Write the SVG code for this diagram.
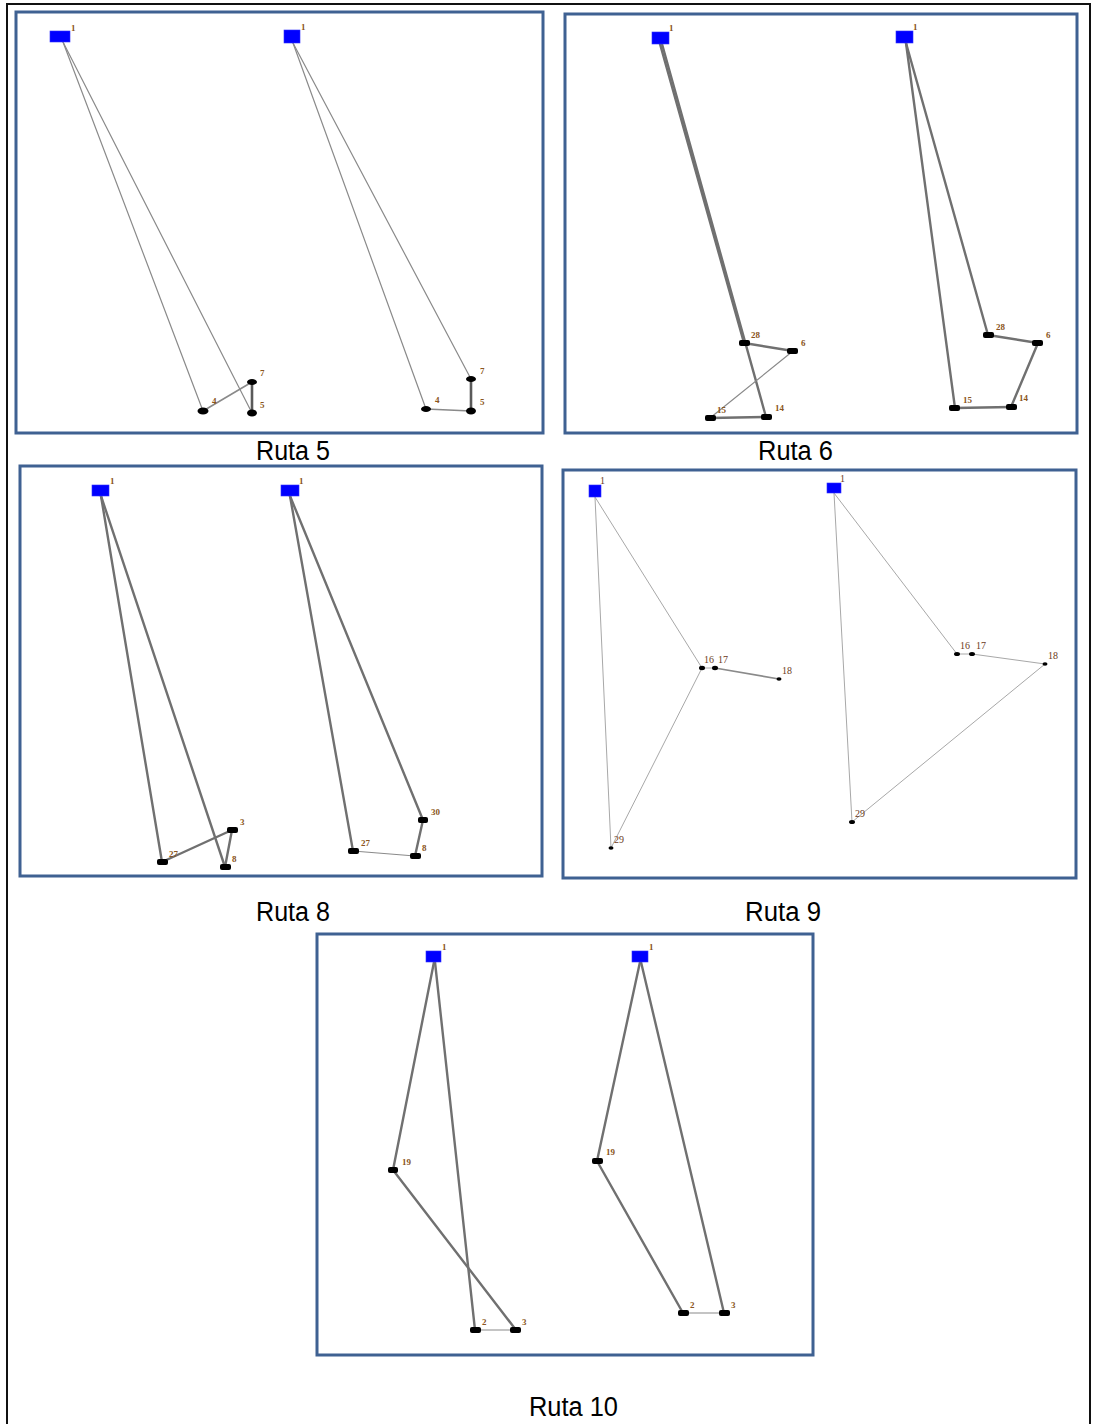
<svg xmlns="http://www.w3.org/2000/svg" width="1093" height="1424" viewBox="0 0 1093 1424">
<style>
.frame{fill:none;stroke:#111;stroke-width:2}
.panel{fill:#fff;stroke:#3f6192;stroke-width:3}
.depot{fill:#0000ff;stroke:#3030ff;stroke-width:0.6}
.node{fill:#000}
.nsm{fill:#000}
.lbl{font-family:"Liberation Serif",serif;font-size:9px;font-weight:bold;fill:#8a5520}
.lbl9{font-family:"Liberation Serif",serif;font-size:10px;fill:#6b3a1a}
.title{font-family:"Liberation Sans",Arial,sans-serif;font-size:27px;fill:#000}
.e{fill:none;stroke:#8a8a8a;stroke-width:1.2;stroke-linecap:round}
.ek{fill:none;stroke:#5a5a5a;stroke-width:2.6;stroke-linecap:round}
.em{fill:none;stroke:#707070;stroke-width:2.4;stroke-linecap:round}
.et{fill:none;stroke:#a8a8a8;stroke-width:1;stroke-linecap:round}
.eh{fill:none;stroke:#8a8a8a;stroke-width:1.6;stroke-linecap:round}
</style>
<rect width="1093" height="1424" fill="#fff"/>
<path class="frame" d="M7,1430 V4 H1090 V1430"/>

<g id="panels">
<rect class="panel" x="16" y="12" width="527" height="421"/>
<rect class="panel" x="565" y="14" width="512" height="419"/>
<rect class="panel" x="20" y="466" width="522" height="410"/>
<rect class="panel" x="563" y="470" width="513" height="408"/>
<rect class="panel" x="317" y="934" width="496" height="421"/>
</g>

<g id="connectors">
<!-- Ruta 5 left -->
<line class="e" x1="63" y1="42" x2="203" y2="411"/>
<line class="e" x1="63" y1="42" x2="252" y2="413"/>
<line class="eh" x1="203" y1="411" x2="252" y2="382"/>
<line class="ek" x1="252" y1="382" x2="252" y2="413"/>
<!-- Ruta 5 right -->
<line class="e" x1="293" y1="43" x2="426" y2="409"/>
<line class="e" x1="293" y1="43" x2="471" y2="379"/>
<line class="eh" x1="426" y1="409" x2="471" y2="411"/>
<line class="ek" x1="471" y1="379" x2="471" y2="411"/>
<!-- Ruta 6 left -->
<line class="em" x1="660" y1="44" x2="744" y2="343"/>
<line class="em" x1="662" y1="44" x2="766" y2="417"/>
<line class="em" x1="744" y1="343" x2="793" y2="351"/>
<line class="e" x1="793" y1="351" x2="710" y2="418"/>
<line class="em" x1="710" y1="418" x2="766" y2="417"/>
<!-- Ruta 6 right -->
<line class="em" x1="906" y1="43" x2="988" y2="335"/>
<line class="em" x1="988" y1="335" x2="1038" y2="343"/>
<line class="em" x1="1038" y1="343" x2="1011" y2="407"/>
<line class="em" x1="1011" y1="407" x2="955" y2="408"/>
<line class="em" x1="955" y1="408" x2="906" y2="43"/>
<!-- Ruta 8 left -->
<line class="em" x1="101" y1="496" x2="162" y2="862"/>
<line class="em" x1="162" y1="862" x2="232" y2="830"/>
<line class="em" x1="232" y1="830" x2="225" y2="867"/>
<line class="em" x1="225" y1="867" x2="101" y2="496"/>
<!-- Ruta 8 right -->
<line class="em" x1="290" y1="496" x2="353" y2="851"/>
<line class="e" x1="353" y1="851" x2="415" y2="856"/>
<line class="em" x1="415" y1="856" x2="423" y2="820"/>
<line class="em" x1="423" y1="820" x2="290" y2="496"/>
<!-- Ruta 9 left -->
<line class="et" x1="595" y1="497" x2="611" y2="848"/>
<line class="et" x1="595" y1="497" x2="702" y2="668"/>
<line class="et" x1="611" y1="848" x2="702" y2="668"/>
<line class="et" x1="702" y1="668" x2="715" y2="668"/>
<line class="eh" x1="715" y1="668" x2="779" y2="679"/>
<!-- Ruta 9 right -->
<line class="et" x1="834" y1="493" x2="852" y2="822"/>
<line class="et" x1="834" y1="493" x2="957" y2="654"/>
<line class="et" x1="957" y1="654" x2="972" y2="654"/>
<line class="et" x1="972" y1="654" x2="1045" y2="664"/>
<line class="et" x1="1045" y1="664" x2="852" y2="822"/>
<!-- Ruta 10 left -->
<line class="em" x1="434" y1="962" x2="393" y2="1170"/>
<line class="em" x1="393" y1="1170" x2="516" y2="1330"/>
<line class="e" x1="516" y1="1330" x2="475" y2="1330"/>
<line class="em" x1="475" y1="1330" x2="435" y2="962"/>
<!-- Ruta 10 right -->
<line class="em" x1="640" y1="962" x2="597" y2="1161"/>
<line class="em" x1="597" y1="1161" x2="683" y2="1313"/>
<line class="e" x1="683" y1="1313" x2="724" y2="1313"/>
<line class="em" x1="724" y1="1313" x2="641" y2="962"/>
</g>

<!-- Ruta 5 left nodes -->
<g id="r5a-1"><rect class="depot" x="50" y="31" width="20" height="11"/><text class="lbl" x="71" y="31">1</text></g>
<g id="r5a-4"><ellipse class="node" cx="203" cy="411" rx="5.5" ry="3.5"/><text class="lbl" x="212" y="404" fill="#3050a0">4</text></g>
<g id="r5a-7"><ellipse class="node" cx="252" cy="382" rx="5" ry="3"/><text class="lbl" x="260" y="376">7</text></g>
<g id="r5a-5"><ellipse class="node" cx="252" cy="413" rx="5" ry="3.5"/><text class="lbl" x="260" y="408">5</text></g>
<!-- Ruta 5 right nodes -->
<g id="r5b-1"><rect class="depot" x="284" y="30" width="16" height="13"/><text class="lbl" x="301" y="30">1</text></g>
<g id="r5b-4"><ellipse class="node" cx="426" cy="409" rx="5" ry="3"/><text class="lbl" x="435" y="403">4</text></g>
<g id="r5b-7"><ellipse class="node" cx="471" cy="379" rx="5" ry="3"/><text class="lbl" x="480" y="374">7</text></g>
<g id="r5b-5"><ellipse class="node" cx="471" cy="411" rx="5" ry="3.5"/><text class="lbl" x="480" y="405">5</text></g>

<!-- Ruta 6 left nodes -->
<g id="r6a-1"><rect class="depot" x="652" y="32" width="17" height="12"/><text class="lbl" x="669" y="31">1</text></g>
<g id="r6a-28"><rect class="node" x="739" y="340" width="11" height="6" rx="2"/><text class="lbl" x="751" y="338">28</text></g>
<g id="r6a-6"><rect class="node" x="787" y="348" width="11" height="6" rx="2"/><text class="lbl" x="801" y="346">6</text></g>
<g id="r6a-14"><rect class="node" x="761" y="414" width="11" height="6" rx="2"/><text class="lbl" x="775" y="411">14</text></g>
<g id="r6a-15"><rect class="node" x="705" y="415" width="11" height="6" rx="2"/><text class="lbl" x="717" y="413">15</text></g>
<!-- Ruta 6 right nodes -->
<g id="r6b-1"><rect class="depot" x="896" y="31" width="17" height="12"/><text class="lbl" x="913" y="30">1</text></g>
<g id="r6b-28"><rect class="node" x="983" y="332" width="11" height="6" rx="2"/><text class="lbl" x="996" y="330">28</text></g>
<g id="r6b-6"><rect class="node" x="1032" y="340" width="11" height="6" rx="2"/><text class="lbl" x="1046" y="338">6</text></g>
<g id="r6b-14"><rect class="node" x="1006" y="404" width="11" height="6" rx="2"/><text class="lbl" x="1019" y="401">14</text></g>
<g id="r6b-15"><rect class="node" x="949" y="405" width="11" height="6" rx="2"/><text class="lbl" x="963" y="403">15</text></g>

<!-- Ruta 8 left nodes -->
<g id="r8a-1"><rect class="depot" x="92" y="485" width="17" height="11"/><text class="lbl" x="110" y="484">1</text></g>
<g id="r8a-27"><rect class="node" x="157" y="859" width="11" height="6" rx="2"/><text class="lbl" x="169" y="857">27</text></g>
<g id="r8a-3"><rect class="node" x="227" y="827" width="11" height="6" rx="2"/><text class="lbl" x="240" y="825">3</text></g>
<g id="r8a-8"><rect class="node" x="220" y="864" width="11" height="6" rx="2"/><text class="lbl" x="232" y="862">8</text></g>
<!-- Ruta 8 right nodes -->
<g id="r8b-1"><rect class="depot" x="281" y="485" width="18" height="11"/><text class="lbl" x="299" y="484">1</text></g>
<g id="r8b-27"><rect class="node" x="348" y="848" width="11" height="6" rx="2"/><text class="lbl" x="361" y="846">27</text></g>
<g id="r8b-8"><rect class="node" x="410" y="853" width="11" height="6" rx="2"/><text class="lbl" x="422" y="851">8</text></g>
<g id="r8b-30"><rect class="node" x="418" y="817" width="10" height="6" rx="2"/><text class="lbl" x="431" y="815">30</text></g>

<!-- Ruta 9 left nodes -->
<g id="r9a-1"><rect class="depot" x="589" y="485" width="12" height="12"/><text class="lbl9" x="600" y="484">1</text></g>
<g id="r9a-16"><ellipse class="nsm" cx="702" cy="668" rx="3" ry="2.2"/><text class="lbl9" x="704" y="663">16</text></g>
<g id="r9a-17"><ellipse class="nsm" cx="715" cy="668" rx="3" ry="2.2"/><text class="lbl9" x="718" y="663">17</text></g>
<g id="r9a-18"><ellipse class="nsm" cx="779" cy="679" rx="2.5" ry="1.8"/><text class="lbl9" x="782" y="674">18</text></g>
<g id="r9a-29"><ellipse class="nsm" cx="611" cy="848" rx="2.5" ry="1.8"/><text class="lbl9" x="614" y="843">29</text></g>
<!-- Ruta 9 right nodes -->
<g id="r9b-1"><rect class="depot" x="827" y="483" width="14" height="10"/><text class="lbl9" x="840" y="482">1</text></g>
<g id="r9b-16"><ellipse class="nsm" cx="957" cy="654" rx="3" ry="2"/><text class="lbl9" x="960" y="649">16</text></g>
<g id="r9b-17"><ellipse class="nsm" cx="972" cy="654" rx="3" ry="2"/><text class="lbl9" x="976" y="649">17</text></g>
<g id="r9b-18"><ellipse class="nsm" cx="1045" cy="664" rx="2.5" ry="1.8"/><text class="lbl9" x="1048" y="659">18</text></g>
<g id="r9b-29"><ellipse class="nsm" cx="852" cy="822" rx="3" ry="2"/><text class="lbl9" x="855" y="817">29</text></g>

<!-- Ruta 10 left nodes -->
<g id="r10a-1"><rect class="depot" x="426" y="951" width="15" height="11"/><text class="lbl" x="442" y="950">1</text></g>
<g id="r10a-19"><rect class="node" x="388" y="1167" width="10" height="6" rx="2"/><text class="lbl" x="402" y="1165">19</text></g>
<g id="r10a-2"><rect class="node" x="470" y="1327" width="11" height="6" rx="2"/><text class="lbl" x="482" y="1325">2</text></g>
<g id="r10a-3"><rect class="node" x="510" y="1327" width="11" height="6" rx="2"/><text class="lbl" x="522" y="1325">3</text></g>
<!-- Ruta 10 right nodes -->
<g id="r10b-1"><rect class="depot" x="632" y="951" width="16" height="11"/><text class="lbl" x="649" y="950">1</text></g>
<g id="r10b-19"><rect class="node" x="592" y="1158" width="11" height="6" rx="2"/><text class="lbl" x="606" y="1155">19</text></g>
<g id="r10b-2"><rect class="node" x="678" y="1310" width="11" height="6" rx="2"/><text class="lbl" x="690" y="1308">2</text></g>
<g id="r10b-3"><rect class="node" x="719" y="1310" width="11" height="6" rx="2"/><text class="lbl" x="731" y="1308">3</text></g>

<g id="titles">
<text class="title" x="256" y="460" textLength="74" lengthAdjust="spacingAndGlyphs">Ruta 5</text>
<text class="title" x="758" y="460" textLength="75" lengthAdjust="spacingAndGlyphs">Ruta 6</text>
<text class="title" x="256" y="921" textLength="74" lengthAdjust="spacingAndGlyphs">Ruta 8</text>
<text class="title" x="745" y="921" textLength="76" lengthAdjust="spacingAndGlyphs">Ruta 9</text>
<text class="title" x="529" y="1416" textLength="89" lengthAdjust="spacingAndGlyphs">Ruta 10</text>
</g>
</svg>
